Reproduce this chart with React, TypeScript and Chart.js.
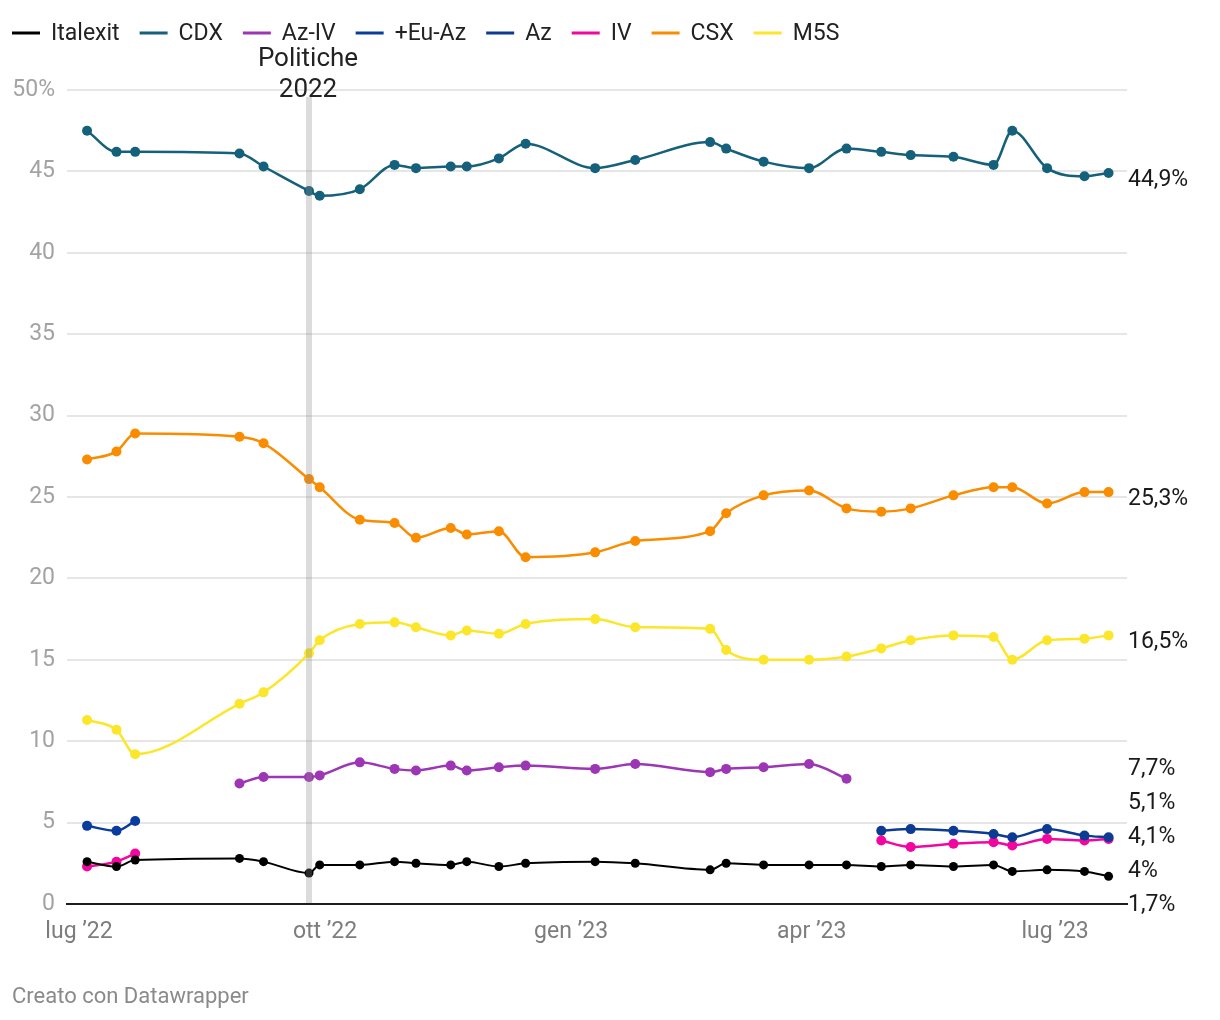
import React, { useEffect, useRef } from "react";
import { Chart, registerables } from "chart.js";

Chart.register(...registerables);

// ---------- DATA ----------
const dates = [
  "2022-07-04", "2022-07-15", "2022-07-22", "2022-08-30", "2022-09-08", "2022-09-25",
  "2022-09-29", "2022-10-14", "2022-10-27", "2022-11-04", "2022-11-17", "2022-11-23",
  "2022-12-05", "2022-12-15", "2023-01-10", "2023-01-25", "2023-02-22", "2023-02-28",
  "2023-03-14", "2023-03-31", "2023-04-14", "2023-04-27", "2023-05-08", "2023-05-24",
  "2023-06-08", "2023-06-15", "2023-06-28", "2023-07-12", "2023-07-21",
];

const italexit = [2.6, 2.3, 2.7, 2.8, 2.6, 1.9, 2.4, 2.4, 2.6, 2.5, 2.4, 2.6, 2.3, 2.5, 2.6, 2.5, 2.1, 2.5, 2.4, 2.4, 2.4, 2.3, 2.4, 2.3, 2.4, 2.0, 2.1, 2.0, 1.7];
const cdx = [47.5, 46.2, 46.2, 46.1, 45.3, 43.8, 43.5, 43.9, 45.4, 45.2, 45.3, 45.3, 45.8, 46.7, 45.2, 45.7, 46.8, 46.4, 45.6, 45.2, 46.4, 46.2, 46.0, 45.9, 45.4, 47.5, 45.2, 44.7, 44.9];
const azIv = [null, null, null, 7.4, 7.8, 7.8, 7.9, 8.7, 8.3, 8.2, 8.5, 8.2, 8.4, 8.5, 8.3, 8.6, 8.1, 8.3, 8.4, 8.6, 7.7, null, null, null, null, null, null, null, null];
const euAz = [4.8, 4.5, 5.1, null, null, null, null, null, null, null, null, null, null, null, null, null, null, null, null, null, null, null, null, null, null, null, null, null, null];
const az = [null, null, null, null, null, null, null, null, null, null, null, null, null, null, null, null, null, null, null, null, null, 4.5, 4.6, 4.5, 4.3, 4.1, 4.6, 4.2, 4.1];
const iv = [2.3, 2.6, 3.1, null, null, null, null, null, null, null, null, null, null, null, null, null, null, null, null, null, null, 3.9, 3.5, 3.7, 3.8, 3.6, 4.0, 3.9, 4.0];
const csx = [27.3, 27.8, 28.9, 28.7, 28.3, 26.1, 25.6, 23.6, 23.4, 22.5, 23.1, 22.7, 22.9, 21.3, 21.6, 22.3, 22.9, 24.0, 25.1, 25.4, 24.3, 24.1, 24.3, 25.1, 25.6, 25.6, 24.6, 25.3, 25.3];
const m5s = [11.3, 10.7, 9.2, 12.3, 13.0, 15.4, 16.2, 17.2, 17.3, 17.0, 16.5, 16.8, 16.6, 17.2, 17.5, 17.0, 16.9, 15.6, 15.0, 15.0, 15.2, 15.7, 16.2, 16.5, 16.4, 15.0, 16.2, 16.3, 16.5];

const seriesNames = ["Italexit", "CDX", "Az-IV", "+Eu-Az", "Az", "IV", "CSX", "M5S"];
const seriesValues = [italexit, cdx, azIv, euAz, az, iv, csx, m5s];
const seriesColors = ["#000000", "#15607a", "#9c36b5", "#0a3c9e", "#0d3b93", "#f2069f", "#fa8c00", "#fbe62a"];

const xTickDates = ["2022-07-01", "2022-10-01", "2023-01-01", "2023-04-01", "2023-07-01"];
const xTickLabels = ["lug \u201922", "ott \u201922", "gen \u201923", "apr \u201923", "lug \u201923"];
const xDomain = ["2022-06-26T12:00:00Z", "2023-07-27T21:30:00Z"];
const yTicks = [0, 5, 10, 15, 20, 25, 30, 35, 40, 45, 50];

const annotationDate = "2022-09-25";
const annotationText = ["Politiche", "2022"];
const footerText = "Creato con Datawrapper";

// ---------- HELPERS ----------
const ORIGIN = Date.UTC(2022, 6, 1);
const toDay = (s: string) => {
  const t = s.length > 10 ? Date.parse(s) : Date.parse(s + "T00:00:00Z");
  return (t - ORIGIN) / 86400000;
};
const fmt = (v: number) => (Number.isInteger(v) ? String(v) : v.toFixed(1).replace(".", ",")) + "%";
const FONT = "Roboto, 'Noto Sans', sans-serif";

function layoutLabels(targets: number[], gap: number): number[] {
  let groups = targets.map((t, i) => ({ idx: [i], mean: t }));
  let changed = true;
  while (changed) {
    changed = false;
    for (let i = 0; i < groups.length - 1; i++) {
      const a = groups[i];
      const b = groups[i + 1];
      const aEnd = a.mean + ((a.idx.length - 1) * gap) / 2;
      const bStart = b.mean - ((b.idx.length - 1) * gap) / 2;
      if (bStart - aEnd < gap) {
        const idx = a.idx.concat(b.idx);
        const mean = idx.reduce((s, k) => s + targets[k], 0) / idx.length;
        groups.splice(i, 2, { idx, mean });
        changed = true;
        break;
      }
    }
  }
  const out = new Array(targets.length).fill(0);
  groups.forEach((g) => {
    const start = g.mean - ((g.idx.length - 1) * gap) / 2;
    g.idx.forEach((k, j) => (out[k] = start + j * gap));
  });
  return out;
}

const bandPlugin = {
  id: "electionBand",
  afterDatasetsDraw(chart: any) {
    const { ctx, scales, chartArea } = chart;
    const x = scales.x.getPixelForValue(toDay(annotationDate));
    ctx.save();
    ctx.fillStyle = "rgba(140,140,140,0.3)";
    ctx.fillRect(x - 3, 97, 6, chartArea.bottom - 1 - 97);
    ctx.fillStyle = "#222";
    ctx.font = `26px ${FONT}`;
    ctx.textAlign = "center";
    ctx.textBaseline = "middle";
    ctx.fillText(annotationText[0], x - 1, 59);
    ctx.fillText(annotationText[1], x - 1, 90);
    ctx.restore();
  },
};

const legendPlugin = {
  id: "customLegend",
  afterDraw(chart: any) {
    const { ctx } = chart;
    ctx.save();
    ctx.font = `23px ${FONT}`;
    ctx.textBaseline = "middle";
    ctx.textAlign = "left";
    let x = 12;
    const y = 33;
    chart.data.datasets.forEach((ds: any) => {
      ctx.strokeStyle = ds.borderColor;
      ctx.lineWidth = 3;
      ctx.beginPath();
      ctx.moveTo(x, y);
      ctx.lineTo(x + 28, y);
      ctx.stroke();
      ctx.fillStyle = "#222";
      ctx.fillText(ds.label, x + 39, y + 1);
      x += 39 + ctx.measureText(ds.label).width + 20;
    });
    ctx.restore();
  },
};

const endLabelPlugin = {
  id: "endLabels",
  afterDraw(chart: any) {
    const { ctx, scales, chartArea } = chart;
    const items: { v: number; t: number }[] = [];
    chart.data.datasets.forEach((ds: any) => {
      const pts = ds.data.filter((p: any) => p.y !== null && p.y !== undefined);
      if (!pts.length) return;
      const v = pts[pts.length - 1].y;
      items.push({ v, t: scales.y.getPixelForValue(v) + 7 });
    });
    items.sort((a, b) => a.t - b.t);
    const ys = layoutLabels(items.map((i) => i.t), 34);
    ctx.save();
    ctx.font = `23px ${FONT}`;
    ctx.fillStyle = "#1a1a1a";
    ctx.textAlign = "left";
    ctx.textBaseline = "middle";
    items.forEach((it, i) => ctx.fillText(fmt(it.v), chartArea.right + 1, ys[i]));
    ctx.restore();
  },
};

export default function App() {
  const ref = useRef<HTMLCanvasElement>(null);
  useEffect(() => {
    const canvas = ref.current;
    if (!canvas) return;
    const xs = dates.map(toDay);
    const datasets = seriesNames.map((name, k) => ({
      label: name,
      data: xs.map((x, i) => ({ x, y: seriesValues[k][i] })),
      borderColor: seriesColors[k],
      backgroundColor: seriesColors[k],
      pointBackgroundColor: seriesColors[k],
      pointRadius: k === 0 ? 4.5 : 5,
      pointHoverRadius: 5,
      pointBorderWidth: 0,
      borderWidth: k === 0 ? 2 : 2.5,
      cubicInterpolationMode: "monotone" as const,
      spanGaps: false,
    }));
    const tickDays = xTickDates.map(toDay);
    const chart = new Chart(canvas, {
      type: "line",
      data: { datasets } as any,
      options: {
        animation: false,
        responsive: false,
        devicePixelRatio: 1,
        layout: { padding: { top: 90, right: 93, bottom: 76, left: 0 } },
        plugins: { legend: { display: false }, tooltip: { enabled: false } },
        scales: {
          x: {
            type: "linear",
            min: toDay(xDomain[0]),
            max: toDay(xDomain[1]),
            grid: { display: false, drawTicks: false },
            border: { display: true, color: "#1e1e1e", width: 2 },
            afterBuildTicks: (s: any) => {
              s.ticks = tickDays.map((v) => ({ value: v }));
            },
            afterFit: (s: any) => {
              s.height = 40;
            },
            ticks: {
              autoSkip: false,
              maxRotation: 0,
              padding: 14,
              color: "#7d7d7d",
              font: { family: FONT, size: 23 },
              callback: (_v: any, i: number) => xTickLabels[i],
            },
          },
          y: {
            min: 0,
            max: 50,
            afterBuildTicks: (s: any) => {
              s.ticks = yTicks.map((v) => ({ value: v }));
            },
            afterFit: (s: any) => {
              s.width = 67;
            },
            grid: { color: "#e6e6e6", lineWidth: 2, drawTicks: false },
            border: { display: false },
            ticks: {
              padding: 12,
              color: "#a3a3a3",
              font: { family: FONT, size: 23 },
              callback: (v: any) => (v === 50 ? "50%" : String(v)),
            },
          },
        },
      } as any,
      plugins: [bandPlugin, legendPlugin, endLabelPlugin],
    });
    return () => chart.destroy();
  }, []);
  return (
    <div style={{ position: "absolute", left: 0, top: 0, width: 1220, height: 1020, background: "#fff" }}>
      <canvas ref={ref} width={1220} height={1020} style={{ width: 1220, height: 1020, display: "block" }} />
      <div
        style={{
          position: "absolute",
          left: 12,
          top: 983,
          font: `22px ${FONT}`,
          color: "#8a8a8a",
          whiteSpace: "nowrap",
        }}
      >
        {footerText}
      </div>
    </div>
  );
}
